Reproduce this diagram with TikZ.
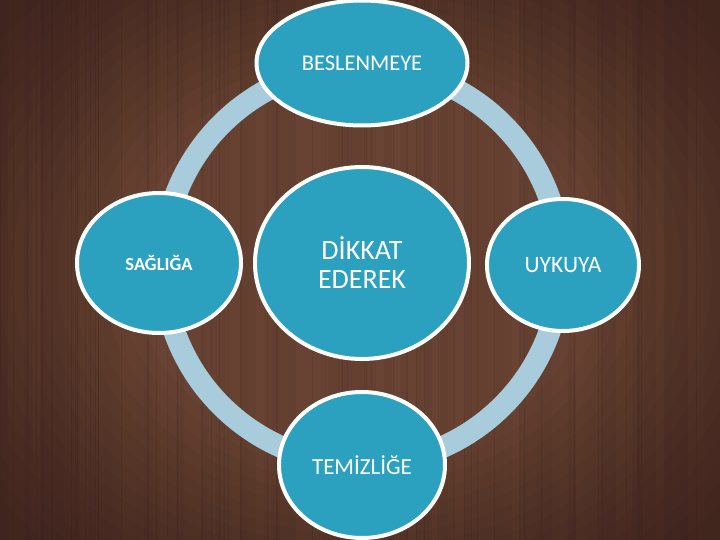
\documentclass[tikz,border=0pt]{standalone}
\usepackage{fontspec}
\setmainfont{Carlito}
\usetikzlibrary{shapes.geometric}
\definecolor{wood}{HTML}{6C4535}
\definecolor{ringblue}{HTML}{A9CCDC}
\definecolor{bubblefill}{HTML}{2CA0BF}
\begin{document}
\begin{tikzpicture}[x=1pt,y=-1pt,
  bubble/.style={ellipse, fill=bubblefill, draw=white, line width=4pt, inner sep=0pt, text=white, align=center}]
\useasboundingbox (0,0) rectangle (720,540);
% wood background
\fill[wood] (0,0) rectangle (720,540);
\pgfmathsetseed{7}
\foreach \i in {0,...,89} {
  \pgfmathsetmacro\o{0.02+0.06*rnd}
  \fill[black,opacity=\o] (\i*8,0) rectangle ++(8,540);
}
\foreach \i in {0,...,59} {
  \pgfmathsetmacro\xx{720*rnd}
  \draw[black,opacity=0.07,line width=0.6pt] (\xx,0) -- (\xx,540);
}
\foreach \k in {1,...,16} {
  \fill[black,opacity=0.022,even odd rule] (0,0) rectangle (720,540) (362,270) ellipse ({470-15*\k} and {390-12.5*\k});
}
% ring
\draw[ringblue, line width=22pt] (362,265) circle (199pt);
% bubbles
\node[bubble, minimum width=211pt, minimum height=125pt, font=\fontsize{22.5}{26}\selectfont] (top) at (362,63) {BESLENMEYE};
\node[bubble, minimum width=164pt, minimum height=140pt, font=\bfseries\fontsize{18.5}{22}\selectfont] (left) at (159,263) {SAĞLIĞA};
\node[bubble, minimum width=214pt, minimum height=192pt, font=\fontsize{28}{29}\selectfont] (center) at (362,263) {DİKKAT\\EDEREK};
\node[bubble, minimum width=152pt, minimum height=132pt, font=\fontsize{23.5}{27}\selectfont] (right) at (563,265) {UYKUYA};
\node[bubble, minimum width=166pt, minimum height=146pt, font=\fontsize{23}{27}\selectfont] (bottom) at (362,465) {TEMİZLİĞE};
\end{tikzpicture}
\end{document}
